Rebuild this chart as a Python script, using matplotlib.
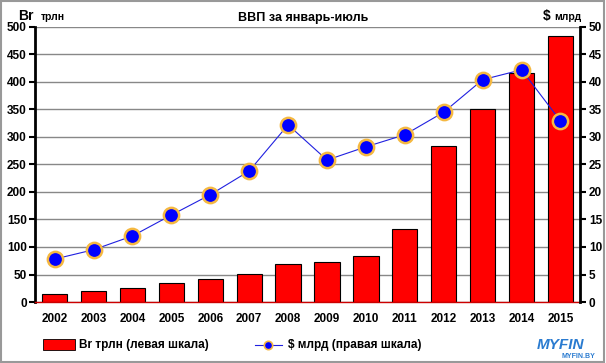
import matplotlib
matplotlib.use("Agg")
import matplotlib.pyplot as plt
from matplotlib.patches import Rectangle

years = ["2002", "2003", "2004", "2005", "2006", "2007", "2008",
         "2009", "2010", "2011", "2012", "2013", "2014", "2015"]
byr_trln = [14.5, 20, 25, 35, 42, 51, 69, 73, 84, 133, 284, 351, 416, 483]
usd_bln = [7.8, 9.5, 12.0, 15.8, 19.5, 23.8, 32.2, 25.8, 28.2, 30.4, 34.5, 40.4, 42.2, 32.9]

plt.rcParams['font.family'] = ['Liberation Sans', 'DejaVu Sans']
plt.rcParams['font.weight'] = 'bold'

fig = plt.figure(figsize=(6.06, 3.63), dpi=100)
fig.patches.append(Rectangle((0.002, 0.003), 0.995, 0.993, transform=fig.transFigure,
                             fill=False, edgecolor='#999999', linewidth=1.5))

ax = fig.add_axes([0.058, 0.168, 0.899, 0.758])
x = range(len(years))
ax.bar(x, byr_trln, width=0.65, color='#ff0000', edgecolor='black', linewidth=0.8, zorder=2)
ax.set_ylim(0, 500)
ax.set_yticks(range(0, 501, 50))
ax.set_xlim(-0.5, len(years) - 0.5)
ax.set_xticks(list(x))
ax.set_xticklabels(years, fontsize=8.5, fontweight='bold')
ax.tick_params(axis='x', length=0, pad=8)
ax.tick_params(axis='y', direction='out', length=4, width=1.5, labelsize=8.5, pad=2)
ax.grid(axis='y', color='#888888', linewidth=1, zorder=0)
ax.set_axisbelow(True)
for s in ['top', 'right']:
    ax.spines[s].set_visible(False)
ax.spines['left'].set_linewidth(2)
ax.spines['bottom'].set_color('#cc0000')
ax.spines['bottom'].set_linewidth(1)

ax2 = ax.twinx()
ax2.plot(x, usd_bln, color='#2020e0', linewidth=0.8, marker='o', markersize=11,
         markerfacecolor='#0000ff', markeredgecolor='#f5b841', markeredgewidth=1.8, zorder=3)
ax2.set_ylim(0, 50)
ax2.set_yticks(range(0, 51, 5))
ax2.tick_params(axis='y', direction='out', length=4, width=1.5, labelsize=8.5, pad=2.5)
for s in ['top', 'left', 'bottom']:
    ax2.spines[s].set_visible(False)
ax2.spines['right'].set_linewidth(2)

fig.text(0.5, 0.95, "ВВП за январь-июль", ha='center', va='center', fontsize=9, fontweight='bold')
fig.text(0.03, 0.945, "Br", ha='left', va='baseline', fontsize=10, fontweight='bold')
fig.text(0.068, 0.945, "трлн", ha='left', va='baseline', fontsize=7.5, fontweight='bold')
fig.text(0.895, 0.945, "$", ha='left', va='baseline', fontsize=10, fontweight='bold')
fig.text(0.915, 0.945, "млрд", ha='left', va='baseline', fontsize=7.5, fontweight='bold')

# legend
fig.patches.append(Rectangle((0.071, 0.036), 0.053, 0.03, transform=fig.transFigure,
                             facecolor='#ff0000', edgecolor='black', linewidth=0.6))
fig.text(0.13, 0.05, "Br трлн (левая шкала)", ha='left', va='center', fontsize=8.5, fontweight='bold')
fig.lines.append(plt.Line2D([0.421, 0.465], [0.05, 0.05], transform=fig.transFigure,
                            color='#2020e0', linewidth=0.8))
fig.lines.append(plt.Line2D([0.443], [0.05], transform=fig.transFigure, color='#2020e0',
                            marker='o', markersize=6, markerfacecolor='#0000ff',
                            markeredgecolor='#f5b841', markeredgewidth=1.2))
fig.text(0.475, 0.05, "$ млрд (правая шкала)", ha='left', va='center', fontsize=8.5, fontweight='bold')

# logo
fig.text(0.925, 0.05, "MYFIN", ha='center', va='center', fontsize=11, fontweight='bold',
         color='#2a7bd0', style='italic')
fig.text(0.955, 0.018, "MYFIN.BY", ha='center', va='center', fontsize=5, fontweight='bold',
         color='#2a7bd0')

fig.savefig("out.png", dpi=100)
